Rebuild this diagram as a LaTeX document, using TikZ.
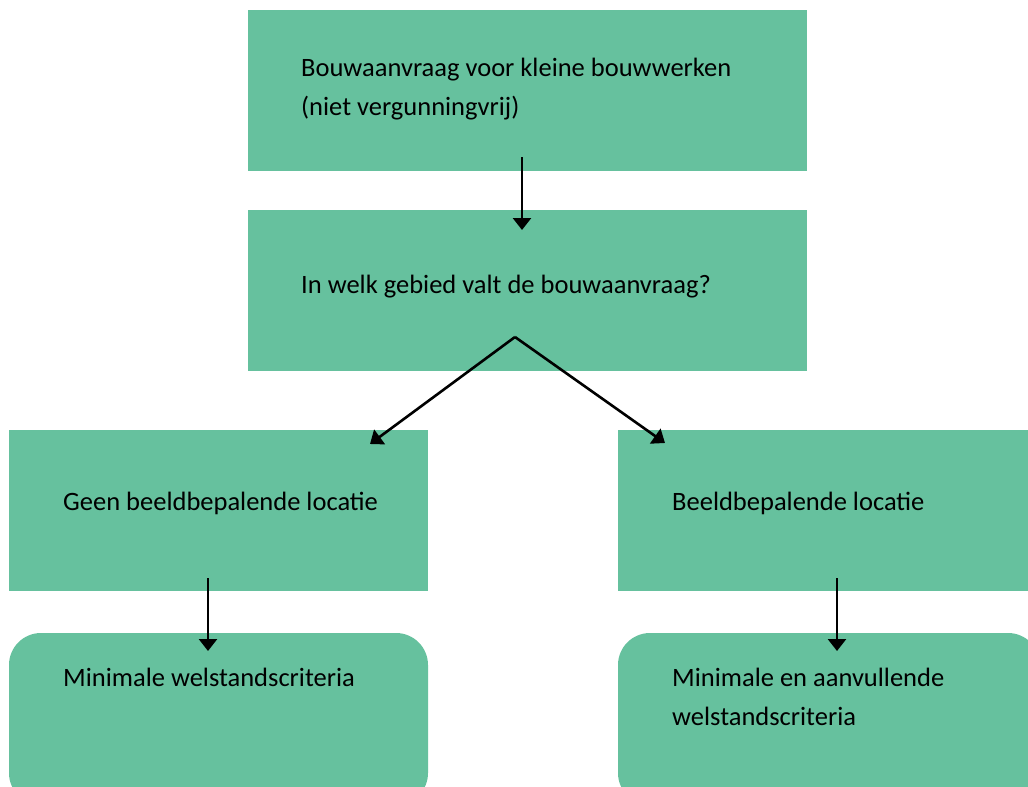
\documentclass[tikz,border=0pt]{standalone}
\usepackage{fontspec}
\setmainfont{Carlito}
\usetikzlibrary{arrows.meta}
\definecolor{boxgreen}{RGB}{102,193,158}
\begin{document}
\begin{tikzpicture}[x=1pt,y=-1pt,
  boxfill/.style={fill=boxgreen,draw=none},
  lbl/.style={anchor=base west,inner sep=0pt,font=\fontsize{26.5}{39}\selectfont,align=left},
  conn/.style={line width=2.6pt,-{Triangle[width=18pt,length=12pt]}}]
\useasboundingbox (0,0) rectangle (1028,787);
\clip (0,0) rectangle (1028,787);
\fill[white] (0,0) rectangle (1028,787);
% boxes
\fill[boxfill] (248,10) rectangle (807,171);
\fill[boxfill] (248,210) rectangle (807,371);
\fill[boxfill] (9,430) rectangle (428,591);
\fill[boxfill] (618,430) rectangle (1040,591);
\fill[boxfill,rounded corners=32pt] (9,633) rectangle (428,805);
\fill[boxfill,rounded corners=32pt] (618,633) rectangle (1040,805);
% texts (base anchor = last line)
\node[lbl] (t1) at (301,115) {Bouwaanvraag voor kleine bouwwerken\\(niet vergunningvrij)};
\node[lbl] (t2) at (301,293) {In welk gebied valt de bouwaanvraag?};
\node[lbl] (t3) at (63,510) {Geen beeldbepalende locatie};
\node[lbl] (t4) at (672,510) {Beeldbepalende locatie};
\node[lbl] (t5) at (63,686) {Minimale welstandscriteria};
\node[lbl] (t6) at (672,725) {Minimale en aanvullende\\welstandscriteria};
% connector points
\coordinate (a1) at (522,157);
\coordinate (a2) at (522,230);
\coordinate (b0) at (515,337);
\coordinate (bl) at (370,444);
\coordinate (br) at (665,443);
\coordinate (c1) at (208,578);
\coordinate (c2) at (208,651);
\coordinate (d1) at (837,578);
\coordinate (d2) at (837,651);
\draw[conn] (a1) -- (a2);
\draw[conn] (b0) -- (bl);
\draw[conn] (b0) -- (br);
\draw[conn] (c1) -- (c2);
\draw[conn] (d1) -- (d2);
\end{tikzpicture}
\end{document}
